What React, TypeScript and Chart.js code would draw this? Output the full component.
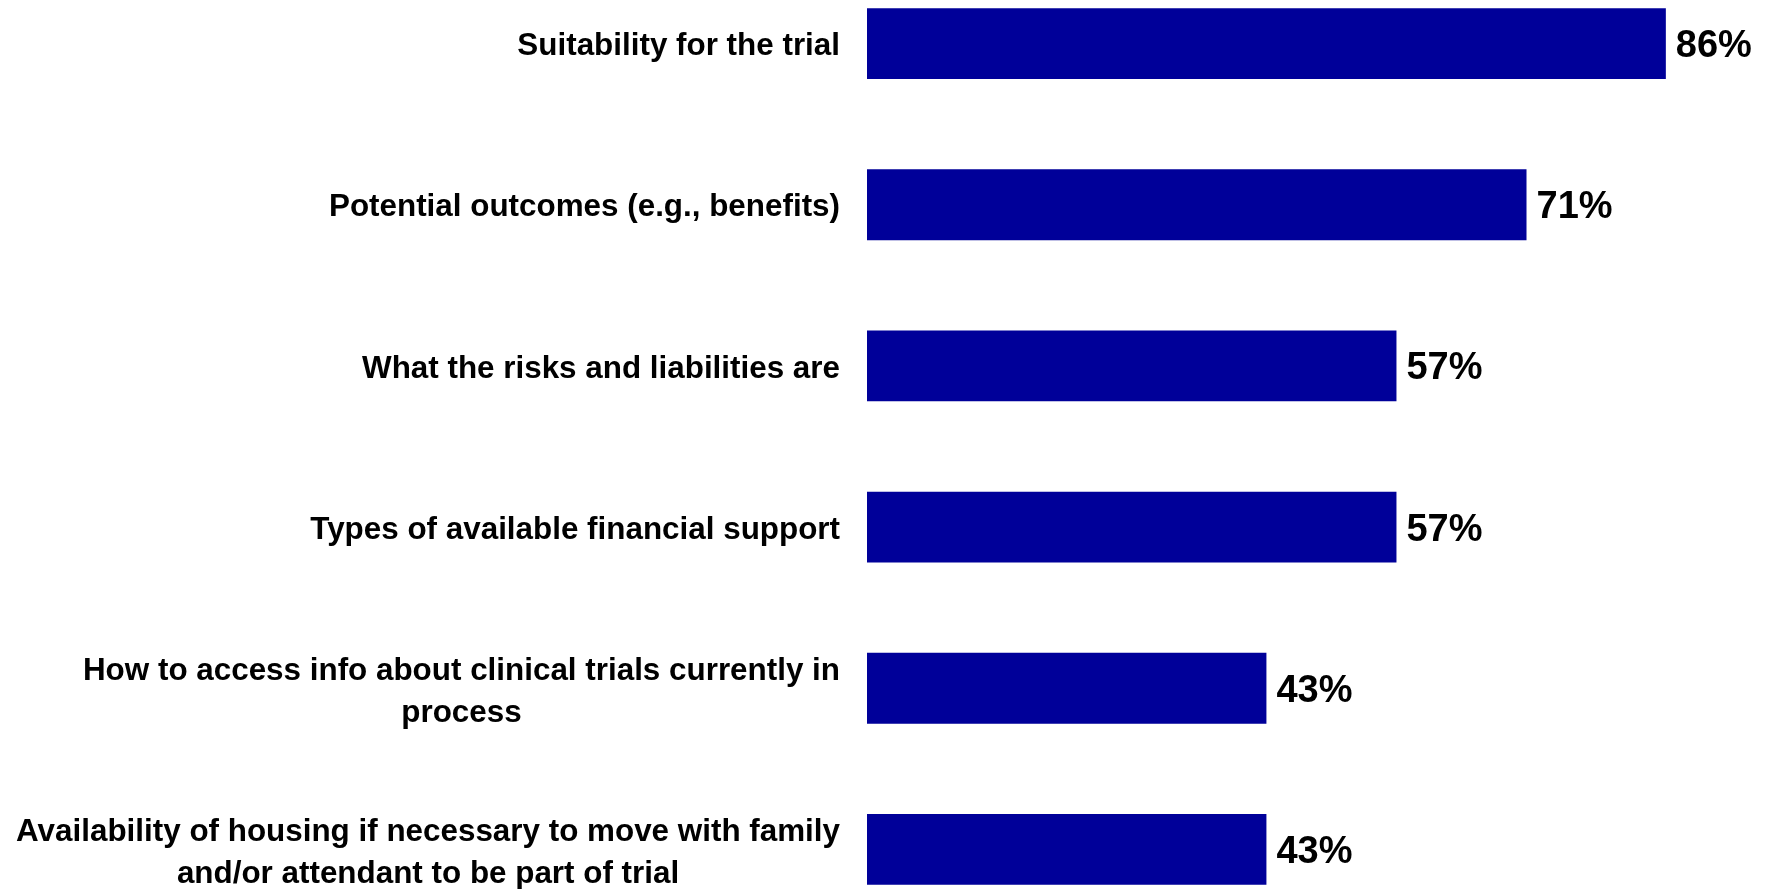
import React, { useEffect, useRef } from 'react';
import { Chart, registerables } from 'chart.js';

Chart.register(...registerables);

// Category labels (each entry = lines of the label)
const categories: string[][] = [
  ['Suitability for the trial'],
  ['Potential outcomes (e.g., benefits)'],
  ['What the risks and liabilities are'],
  ['Types of available financial support'],
  ['How to access info about clinical trials currently in', 'process'],
  ['Availability of housing if necessary to move with family', 'and/or attendant to be part of trial'],
];

// Percentages
const values: number[] = [86, 71, 57, 57, 43, 43];
const valueLabels: string[] = ['86%', '71%', '57%', '57%', '43%', '43%'];

const BAR_COLOR = '#000099';
const LABEL_FONT = 'bold 31.4px "Liberation Sans", Arial, sans-serif';
const VALUE_FONT = 'bold 38px "Liberation Sans", Arial, sans-serif';

const labelsPlugin = {
  id: 'customLabels',
  afterDatasetsDraw(chart: any) {
    const ctx = chart.ctx as CanvasRenderingContext2D;
    const yScale = chart.scales.y;
    const meta = chart.getDatasetMeta(0);
    ctx.save();
    // category labels
    ctx.font = LABEL_FONT;
    ctx.fillStyle = '#000000';
    ctx.textBaseline = 'middle';
    const rightEdge = chart.chartArea.left - 27;
    const lineH = 42;
    categories.forEach((lines, i) => {
      const yc = yScale.getPixelForValue(i);
      if (lines.length === 1) {
        ctx.textAlign = 'right';
        ctx.fillText(lines[0], rightEdge, yc + 3);
      } else {
        const widest = Math.max(...lines.map((l) => ctx.measureText(l).width));
        const cx = rightEdge - widest / 2;
        ctx.textAlign = 'center';
        const y0 = yc - ((lines.length - 1) * lineH) / 2 + 4;
        lines.forEach((l, k) => ctx.fillText(l, cx, y0 + k * lineH));
      }
    });
    // value labels
    ctx.font = VALUE_FONT;
    ctx.textAlign = 'left';
    meta.data.forEach((el: any, i: number) => {
      ctx.fillText(valueLabels[i], el.x + 10, el.y + 3);
    });
    ctx.restore();
  },
};

export default function App() {
  const canvasRef = useRef<HTMLCanvasElement | null>(null);

  useEffect(() => {
    if (!canvasRef.current) return;
    const chart = new Chart(canvasRef.current, {
      type: 'bar',
      data: {
        labels: categories.map((c) => c.join(' ')),
        datasets: [
          {
            data: values,
            backgroundColor: BAR_COLOR,
            borderWidth: 0,
            barPercentage: 0.44,
            categoryPercentage: 1,
          },
        ],
      },
      options: {
        indexAxis: 'y',
        responsive: false,
        animation: false,
        devicePixelRatio: 1,
        layout: { padding: { left: 867, right: 62, top: 0, bottom: 0 } },
        plugins: {
          legend: { display: false },
          tooltip: { enabled: false },
        },
        scales: {
          x: { display: false, min: 0, max: 90 },
          y: { display: false },
        },
      },
      plugins: [labelsPlugin],
    });
    return () => chart.destroy();
  }, []);

  return (
    <div
      style={{
        position: 'fixed',
        left: 0,
        top: 0,
        width: 1765,
        height: 889,
        overflow: 'hidden',
        background: '#ffffff',
      }}
    >
      <canvas
        ref={canvasRef}
        width={1765}
        height={967}
        style={{ position: 'absolute', left: 0, top: -37, width: 1765, height: 967 }}
      />
    </div>
  );
}
